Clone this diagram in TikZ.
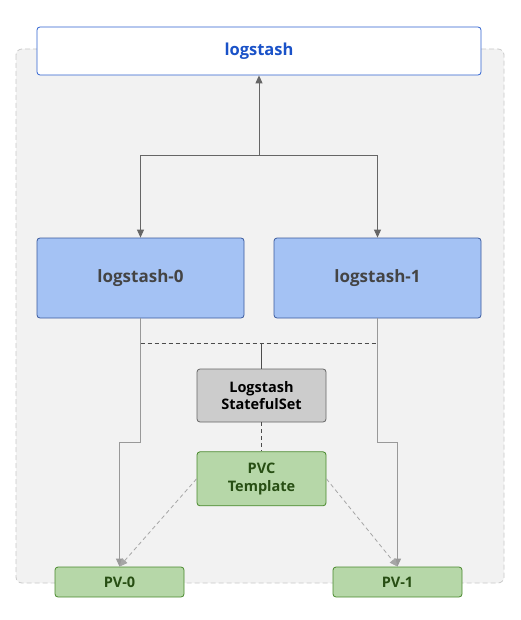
\documentclass[tikz,border=0pt]{standalone}
\usepackage{fontspec}
\setmainfont{Open Sans}
\usetikzlibrary{positioning, arrows.meta}

\definecolor{groupfill}{HTML}{F2F2F2}
\definecolor{groupline}{HTML}{C8C8C8}
\definecolor{clientline}{HTML}{2F62D0}
\definecolor{clienttext}{HTML}{1A52C8}
\definecolor{podfill}{HTML}{A4C2F4}
\definecolor{podline}{HTML}{3A5A9E}
\definecolor{podtext}{HTML}{444444}
\definecolor{setfill}{HTML}{CCCCCC}
\definecolor{setline}{HTML}{666666}
\definecolor{volfill}{HTML}{B6D7A8}
\definecolor{volline}{HTML}{4A8A2E}
\definecolor{voltext}{HTML}{274E13}

\begin{document}
\begin{tikzpicture}[
    x=1pt, y=-1pt,
    node distance=29pt,
    % Styles
    box/.style={rounded corners=3pt, line width=0.8pt, align=center, inner sep=0pt},
    client/.style={box, draw=clientline, fill=white, text=clienttext, minimum width=444pt, minimum height=48pt, font=\fontsize{16.5}{19}\selectfont\bfseries},
    pod/.style={box, draw=podline, fill=podfill, text=podtext, minimum width=207pt, minimum height=80pt, font=\fontsize{17}{20}\selectfont\bfseries},
    controller/.style={box, draw=setline, fill=setfill, text=black, minimum width=129pt, minimum height=53pt, font=\fontsize{14.5}{17.5}\selectfont\bfseries},
    volume/.style={box, draw=volline, fill=volfill, text=voltext, minimum width=129pt, font=\fontsize{14.5}{17.5}\selectfont\bfseries},
    flow/.style={-{Triangle[length=8pt,width=7pt]}, draw=black!60, line width=0.9pt},
    store/.style={-{Triangle[length=8pt,width=7pt]}, draw=black!40, line width=0.9pt},
    claim/.style={-{Triangle[length=8pt,width=7pt]}, draw=black!35, line width=0.8pt, dash pattern=on 4pt off 3pt},
    ctrl/.style={draw=black!70, line width=0.8pt},
]
\useasboundingbox (0,0) rectangle (520,620);

% Group behind the pods
\draw[groupline, fill=groupfill, line width=0.8pt, rounded corners=6pt, dash pattern=on 5pt off 3pt] (16,49) rectangle (504,583);

% Service on top
\node[client] (logstash) at (259,51) {logstash};

% Pods
\node[pod] (pod0) at (140.5,278) {logstash-0};
\node[pod] (pod1) at (377.5,278) {logstash-1};

% StatefulSet and its template
\node[controller] (sts) at (261.5,395.5) {Logstash\\StatefulSet};
\node[volume, minimum height=54pt, below=of sts] (pvc) {PVC\\Template};

% Volumes
\node[volume, minimum height=30pt] (pv0) at (119.5,582) {PV-0};
\node[volume, minimum height=30pt] (pv1) at (397.5,582) {PV-1};

% Traffic between service and pods
\coordinate (split) at (259,155);
\draw[flow] (split) -- (logstash);
\draw[flow] (split) -| (pod0);
\draw[flow] (split) -| (pod1);

% Pods to volumes
\draw[store] (pod0.south) -- ++(0,124) -| (pv0.north);
\draw[store] (pod1.south) -- ++(0,124) -| (pv1.north);

% StatefulSet owns the pods
\coordinate (bus) at (261.5,343);
\draw[ctrl] (sts.north) -- (sts.north |- bus);
\draw[ctrl, dash pattern=on 4pt off 3pt] (pod0.south |- bus) -- (pod1.south |- bus);
\draw[ctrl, dash pattern=on 4pt off 3pt] (sts) -- (pvc);

% Claims from the template
\draw[claim] (pvc.west) -- (pv0.north);
\draw[claim] (pvc.east) -- (pv1.north);

\end{tikzpicture}
\end{document}
